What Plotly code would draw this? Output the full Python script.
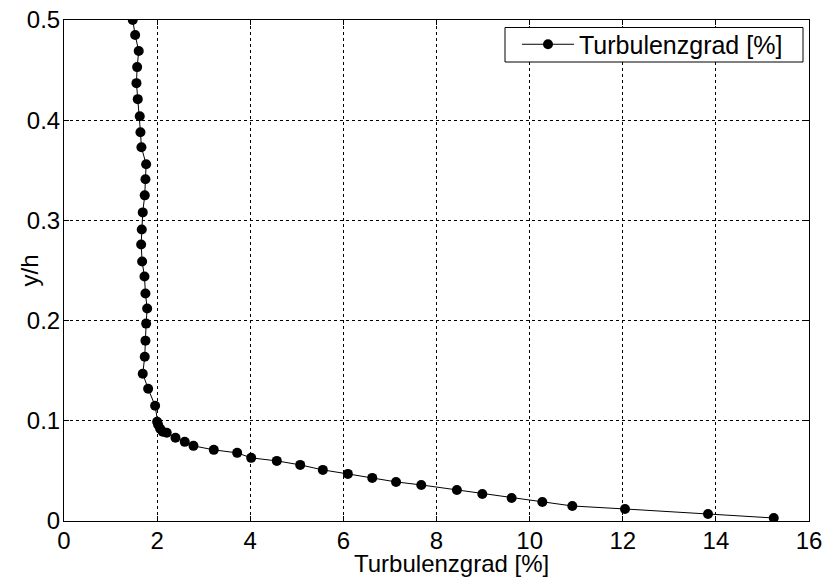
import plotly.graph_objects as go

turbulenzgrad = [1.476, 1.528, 1.605, 1.571, 1.556, 1.584, 1.627, 1.642, 1.663, 1.764,
                 1.749, 1.734, 1.691, 1.670, 1.657, 1.678, 1.728, 1.749, 1.786, 1.764,
                 1.749, 1.734, 1.691, 1.807, 1.957, 2.000, 2.022, 2.065, 2.121, 2.207,
                 2.394, 2.593, 2.780, 3.217, 3.719, 4.020, 4.570, 5.073, 5.559, 6.096,
                 6.620, 7.131, 7.673, 8.438, 8.984, 9.613, 10.273, 10.917, 12.048, 13.831,
                 15.243]
y_h = [0.500, 0.485, 0.469, 0.453, 0.437, 0.421, 0.404, 0.388, 0.373, 0.356,
       0.341, 0.325, 0.308, 0.291, 0.276, 0.259, 0.244, 0.227, 0.212, 0.197,
       0.180, 0.164, 0.147, 0.132, 0.115, 0.099, 0.096, 0.092, 0.089, 0.088,
       0.083, 0.079, 0.075, 0.071, 0.068, 0.063, 0.060, 0.056, 0.051, 0.047,
       0.043, 0.039, 0.036, 0.031, 0.027, 0.023, 0.019, 0.015, 0.012, 0.007,
       0.003]

x_ticks = [0, 2, 4, 6, 8, 10, 12, 14, 16]
y_ticks = [0, 0.1, 0.2, 0.3, 0.4, 0.5]
y_tick_labels = ["0", "0.1", "0.2", "0.3", "0.4", "0.5"]

font_family = "Liberation Sans, Arial, sans-serif"
FS = 24

W, H = 828, 580
L, R, T, B = 64, 19, 20, 59
pw, ph = W - L - R, H - T - B


def px_x(x):
    return (x - L) / pw


def px_y(y):
    return (H - B - y) / ph


fig = go.Figure()
fig.add_trace(go.Scatter(
    x=turbulenzgrad, y=y_h, mode="lines+markers",
    name="Turbulenzgrad [%]",
    line=dict(color="black", width=1),
    marker=dict(color="black", size=10, symbol="circle"),
))

axis_common = dict(
    showline=True, linecolor="black", linewidth=1, mirror="ticks",
    ticks="inside", ticklen=5, tickcolor="black",
    showgrid=True, gridcolor="black", gridwidth=1, griddash="3px,3px",
    zeroline=False, automargin=False,
    tickfont=dict(family=font_family, size=FS, color="black"),
)

fig.update_layout(
    width=W, height=H,
    margin=dict(l=L, r=R, t=T, b=B),
    paper_bgcolor="white", plot_bgcolor="white",
    font=dict(family=font_family, color="black"),
    showlegend=True,
    legend=dict(
        x=px_x(517), y=px_y(44.5), xanchor="left", yanchor="middle",
        borderwidth=0, bgcolor="rgba(0,0,0,0)",
        font=dict(family=font_family, size=25, color="black"),
        itemwidth=52,
    ),
    shapes=[
        dict(type="rect", xref="paper", yref="paper",
             x0=px_x(505), x1=px_x(803), y0=px_y(62), y1=px_y(27.5),
             line=dict(color="black", width=1), fillcolor="white", layer="above"),
    ],
    xaxis=dict(
        range=[0, 16], tickvals=x_ticks, ticklabelstandoff=-2,
        **axis_common,
    ),
    yaxis=dict(
        range=[0, 0.5], tickvals=y_ticks, ticktext=y_tick_labels,
        ticklabelstandoff=-2,
        **axis_common,
    ),
    annotations=[
        dict(text="Turbulenzgrad [%]", x=px_x(451.5), y=px_y(563), xref="paper", yref="paper",
             xanchor="center", yanchor="middle",
             showarrow=False, font=dict(family=font_family, size=FS, color="black")),
        dict(text="y/h", x=px_x(28.5), y=px_y(271), xref="paper", yref="paper", textangle=-90,
             xanchor="center", yanchor="middle",
             showarrow=False, font=dict(family=font_family, size=FS, color="black")),
    ],
)

fig.write_html("out.html", config={"displayModeBar": False},
               post_script="document.body.style.margin='0';")
